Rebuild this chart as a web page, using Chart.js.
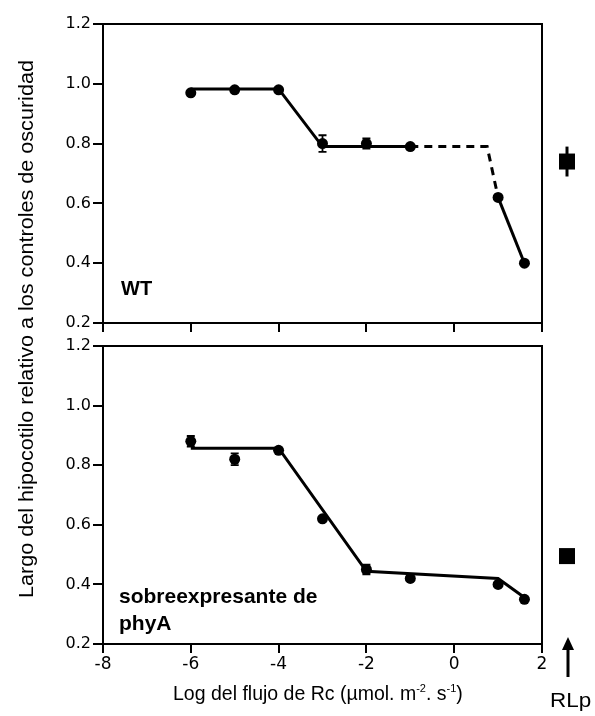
<!DOCTYPE html>
<html>
<head>
<meta charset="utf-8">
<script src="https://cdn.jsdelivr.net/npm/chart.js@4.4.0/dist/chart.umd.min.js"></script>
<style>
  html, body { margin: 0; padding: 0; background: #fff; }
  body { width: 595px; height: 716px; position: relative; overflow: hidden;
         font-family: "Liberation Sans", Arial, sans-serif; color: #000; }
  .box { position: absolute; left: 0; width: 595px; }
  #topBox { top: 0; height: 345px; }
  #botBox { top: 330px; height: 386px; }
  .lbl { position: absolute; white-space: nowrap; color: #000; }
  .panel { font-weight: bold; }
</style>
</head>
<body>
<div class="box" id="topBox"><canvas id="wtChart"></canvas></div>
<div class="box" id="botBox"><canvas id="phyChart"></canvas></div>

<div class="lbl panel" style="left:121px; top:278px; font-size:20px; line-height:20px;">WT</div>
<div class="lbl panel" style="left:119px; top:582px; font-size:21px; line-height:27px;">sobreexpresante de<br>phyA</div>

<div class="lbl" id="yTitle" style="left:-274px; top:319px; width:600px; height:20px; line-height:20px; font-size:20px; text-align:center; transform:rotate(-90deg) scaleX(1.08);">Largo del hipocotilo relativo a los controles de oscuridad</div>
<div class="lbl" style="left:173px; top:683px; font-size:19.5px; line-height:20px;">Log del flujo de Rc (µmol. m<sup style="font-size:11px; vertical-align:8px; line-height:0;">-2</sup>. s<sup style="font-size:11px; vertical-align:8px; line-height:0;">-1</sup>)</div>
<div class="lbl" style="left:550px; top:690px; font-size:19.5px; line-height:20px; transform:scaleX(1.15); transform-origin:left center;">RLp</div>

<svg style="position:absolute; left:555px; top:630px;" width="30" height="55">
  <line x1="13" y1="18" x2="13" y2="47" stroke="#000" stroke-width="3"/>
  <polygon points="7,20 19,20 13,7" fill="#000"/>
</svg>

<script>
// Log10 of the continuous red fluence rate (µmol m-2 s-1)
const fluxLog = [-6, -5, -4, -3, -2, -1, 1, 1.6];
const xTicks = [-8, -6, -4, -2, 0, 2];
const yTicks = [0.2, 0.4, 0.6, 0.8, 1.0, 1.2];

// Wild type: relative hypocotyl length and standard errors
const wtLength = [0.97, 0.98, 0.98, 0.80, 0.80, 0.79, 0.62, 0.40];
const wtErr    = [0, 0, 0, 0.028, 0.017, 0, 0, 0];
// Wild type fitted response (solid, dashed extrapolation, solid tail)
const wtFitX   = [-6, -4, -3, -1];
const wtFitY   = [0.983, 0.983, 0.79, 0.79];
const wtDashX  = [-1, 0.75, 1];
const wtDashY  = [0.79, 0.79, 0.62];
const wtTailX  = [1, 1.6];
const wtTailY  = [0.62, 0.40];
// Wild type under pulsed red light (RLp)
const wtRLp    = 0.74;
const wtRLpErr = 0.05;

// phyA overexpressor
const phyLength = [0.88, 0.82, 0.85, 0.62, 0.45, 0.42, 0.40, 0.35];
const phyErr    = [0.018, 0.02, 0, 0, 0.016, 0, 0, 0];
const phyFitX   = [-6, -4, -2, 1, 1.6];
const phyFitY   = [0.857, 0.857, 0.444, 0.42, 0.356];
const phyRLp    = 0.495;
const phyRLpErr = 0;

const pts = (xs, ys) => xs.map((x, i) => ({ x: x, y: ys[i] }));

// Box around the plotting area
const framePlugin = {
  id: 'frame',
  afterDraw(chart) {
    const { ctx, chartArea: a } = chart;
    ctx.save();
    ctx.strokeStyle = '#000';
    ctx.lineWidth = 2;
    ctx.strokeRect(a.left, a.top, a.right - a.left, a.bottom - a.top);
    ctx.restore();
  }
};

// Vertical error bars with caps for datasets carrying an `errors` array
const errorBarPlugin = {
  id: 'errorBars',
  afterDatasetsDraw(chart) {
    const { ctx, scales: { x, y } } = chart;
    ctx.save();
    ctx.strokeStyle = '#000';
    ctx.lineWidth = 1.8;
    chart.data.datasets.forEach(ds => {
      if (!ds.errors) return;
      ds.data.forEach((p, i) => {
        const e = ds.errors[i];
        if (!e) return;
        const px = x.getPixelForValue(p.x);
        const y1 = y.getPixelForValue(p.y + e);
        const y2 = y.getPixelForValue(p.y - e);
        ctx.beginPath();
        ctx.moveTo(px, y1); ctx.lineTo(px, y2);
        ctx.moveTo(px - 4, y1); ctx.lineTo(px + 4, y1);
        ctx.moveTo(px - 4, y2); ctx.lineTo(px + 4, y2);
        ctx.stroke();
      });
    });
    ctx.restore();
  }
};

// Pulsed red light reference marker, drawn beside the plot on the same y scale
const rlpPlugin = {
  id: 'rlp',
  afterDraw(chart, args, opts) {
    const { ctx, chartArea: a, scales: { y } } = chart;
    const cx = a.right + 25;
    const cy = y.getPixelForValue(opts.value);
    ctx.save();
    ctx.fillStyle = '#000';
    ctx.strokeStyle = '#000';
    if (opts.err) {
      ctx.lineWidth = 3;
      ctx.beginPath();
      ctx.moveTo(cx, y.getPixelForValue(opts.value + opts.err));
      ctx.lineTo(cx, y.getPixelForValue(opts.value - opts.err));
      ctx.stroke();
    }
    ctx.fillRect(cx - 8, cy - 8, 16, 16);
    ctx.restore();
  }
};

function makeChart(id, cfg) {
  const yScale = {
    type: 'linear', min: 0.2, max: 1.2,
    afterBuildTicks: s => { s.ticks = yTicks.map(v => ({ value: v })); },
    afterFit: s => { s.width = 103; },
    ticks: {
      color: '#000', padding: 2,
      font: { family: '"DejaVu Sans"', size: 16 },
      callback: v => Number(v).toFixed(1)
    },
    grid: { drawOnChartArea: false, drawTicks: true, tickLength: 10, color: '#000', lineWidth: 2 },
    border: { display: true, color: '#000', width: 2 }
  };
  const xScale = {
    type: 'linear', min: -8, max: 2,
    afterBuildTicks: s => { s.ticks = xTicks.map(v => ({ value: v })); },
    afterFit: s => { s.height = cfg.xHeight; },
    ticks: {
      display: cfg.showXLabels, color: '#000', padding: 1,
      font: { family: '"DejaVu Sans"', size: 17 },
      callback: v => String(v)
    },
    grid: { drawOnChartArea: false, drawTicks: true, tickLength: 9, color: '#000', lineWidth: 2 },
    border: { display: true, color: '#000', width: 2 }
  };
  return new Chart(document.getElementById(id), {
    type: 'line',
    data: { datasets: cfg.datasets },
    options: {
      responsive: true, maintainAspectRatio: false, animation: false,
      devicePixelRatio: 1,
      layout: { padding: { top: cfg.padTop, right: 53, left: 0, bottom: 0 } },
      plugins: { legend: { display: false }, tooltip: { enabled: false }, rlp: cfg.rlp },
      scales: { x: xScale, y: yScale }
    },
    plugins: [errorBarPlugin, rlpPlugin, framePlugin]
  });
}

const lineDs = (xs, ys, dash) => ({
  data: pts(xs, ys), borderColor: '#000', borderWidth: 3, borderDash: dash || [],
  pointRadius: 0, tension: 0, fill: false
});
const dotDs = (xs, ys, errs) => ({
  data: pts(xs, ys), errors: errs, showLine: false,
  pointRadius: 5.5, pointBackgroundColor: '#000', pointBorderColor: '#000', pointBorderWidth: 0
});

makeChart('wtChart', {
  padTop: 24, xHeight: 22, showXLabels: false,
  rlp: { value: wtRLp, err: wtRLpErr },
  datasets: [
    lineDs(wtFitX, wtFitY),
    lineDs(wtDashX, wtDashY, [8, 6]),
    lineDs(wtTailX, wtTailY),
    dotDs(fluxLog, wtLength, wtErr)
  ]
});

makeChart('phyChart', {
  padTop: 16, xHeight: 72, showXLabels: true,
  rlp: { value: phyRLp, err: phyRLpErr },
  datasets: [
    lineDs(phyFitX, phyFitY),
    dotDs(fluxLog, phyLength, phyErr)
  ]
});
</script>
</body>
</html>
